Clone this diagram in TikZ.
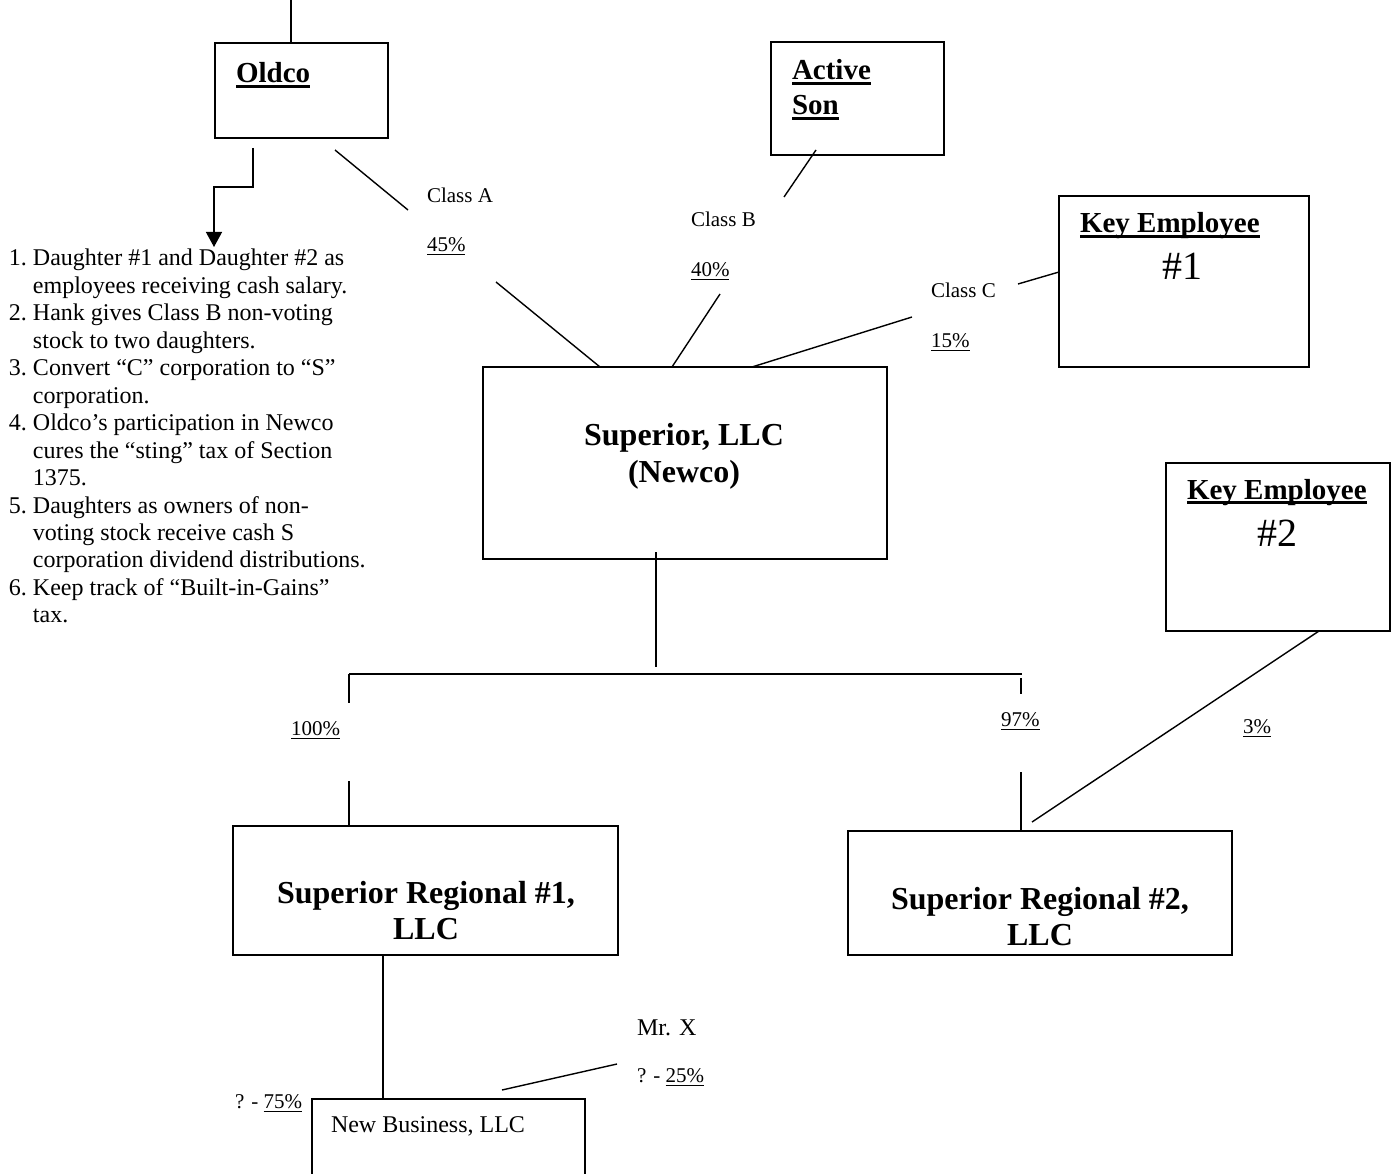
\documentclass[tikz,border=0pt]{standalone}
\usepackage{fontspec}
\setmainfont{Liberation Serif}
\usetikzlibrary{arrows.meta,calc}

% fonts
\newcommand{\listfont}{\fontsize{24}{27.45}\selectfont}
\newcommand{\labfont}{\fontsize{21}{24}\selectfont}
\newcommand{\midfont}{\fontsize{24}{28}\selectfont}
\newcommand{\titlefont}{\fontsize{29}{34}\selectfont\bfseries}
\newcommand{\numfont}{\fontsize{40}{46}\selectfont}
\newcommand{\firmfont}{\fontsize{32}{37}\selectfont\bfseries}
% underlines: text with a rule below the baseline
\newsavebox{\ulbox}
\newcommand{\bul}[1]{\sbox{\ulbox}{#1}\rlap{\usebox{\ulbox}}\rule[-4.6pt]{\wd\ulbox}{2.6pt}}
\newcommand{\pul}[1]{\sbox{\ulbox}{#1}\rlap{\usebox{\ulbox}}\rule[-3.5pt]{\wd\ulbox}{1pt}}

\begin{document}
\begin{tikzpicture}[x=1pt,y=-1pt,
  entity/.style={draw, line width=1.5pt, inner sep=0pt, outer sep=0pt, anchor=north west},
  txt/.style={anchor=base west, inner sep=0pt, outer sep=0pt},
  ctxt/.style={anchor=base, inner sep=0pt, outer sep=0pt, align=center},
  link/.style={line width=1.4pt}]
\useasboundingbox (0,0) rectangle (1398,1174);
\clip (0,0) rectangle (1398,1174);
\fill[white] (0,0) rectangle (1398,1174);

% boxes
\node[entity, minimum width=173pt, minimum height=95pt]  (oldco)  at (215,43) {};
\node[entity, minimum width=173pt, minimum height=113pt] (son)    at (771,42) {};
\node[entity, minimum width=250pt, minimum height=171pt] (keyone) at (1059,196) {};
\node[entity, minimum width=224pt, minimum height=168pt] (keytwo) at (1166,463) {};
\node[entity, minimum width=404pt, minimum height=192pt] (newco)  at (483,367) {};
\node[entity, minimum width=385pt, minimum height=129pt] (regone) at (233,826) {};
\node[entity, minimum width=384pt, minimum height=124pt] (regtwo) at (848,831) {};
\node[entity, minimum width=273pt, minimum height=140pt] (newbiz) at (312,1099) {};

% box texts
\node[txt] (toldco) at (236,83) {\titlefont\bul{Oldco}};
\node[txt] (tson1) at (792,80) {\titlefont\bul{Active}};
\node[txt] (tson2) at (792,115) {\titlefont\bul{Son}};
\node[txt] (tkey1) at (1080,233) {\titlefont\bul{Key Employee}};
\node[ctxt] (nkey1) at (1182,280) {\numfont\#1};
\node[txt] (tkey2) at (1187,499) {\titlefont\bul{Key Employee}};
\node[ctxt] (nkey2) at (1277,546) {\numfont\#2};
\node[ctxt] (tnew1) at (684,445) {\firmfont Superior, LLC};
\node[ctxt] (tnew2) at (684,482) {\firmfont (Newco)};
\node[ctxt] (treg1a) at (426,903) {\firmfont Superior Regional \#1,};
\node[ctxt] (treg1b) at (426,939) {\firmfont LLC};
\node[ctxt] (treg2a) at (1040,909) {\firmfont Superior Regional \#2,};
\node[ctxt] (treg2b) at (1040,945) {\firmfont LLC};
\node[txt] (tbiz) at (331,1132) {\midfont New Business, LLC};

% ownership labels
\node[txt] (lca) at (427,203) {\labfont Class A};
\node[txt] (pca) at (427,252) {\labfont\pul{45\%}};
\node[txt] (lcb) at (691,227) {\labfont Class B};
\node[txt] (pcb) at (691,277) {\labfont\pul{40\%}};
\node[txt] (lcc) at (931,298) {\labfont Class C};
\node[txt] (pcc) at (931,348) {\labfont\pul{15\%}};
\node[txt] (p100) at (291,735) {\labfont\pul{100\%}};
\node[txt] (p97) at (1001,726) {\labfont\pul{97\%}};
\node[txt] (p3) at (1243,733) {\labfont\pul{3\%}};
\node[txt] (lmx) at (637,1035) {\midfont Mr. X};
\node[txt] (pmx) at (637,1082) {\labfont ? - \pul{25\%}};
\node[txt] (p75) at (235,1108) {\labfont ? - \pul{75\%}};

% numbered notes
\node[txt] (notes) at (9,266) {\listfont
  \begin{tabular}[t]{@{}l@{\ }l@{}}
  1. & Daughter \#1 and Daughter \#2 as\\
     & employees receiving cash salary.\\
  2. & Hank gives Class B non-voting\\
     & stock to two daughters.\\
  3. & Convert ``C'' corporation to ``S''\\
     & corporation.\\
  4. & Oldco's participation in Newco\\
     & cures the ``sting'' tax of Section\\
     & 1375.\\
  5. & Daughters as owners of non-\\
     & voting stock receive cash S\\
     & corporation dividend distributions.\\
  6. & Keep track of ``Built-in-Gains''\\
     & tax.
  \end{tabular}};

% connector end points
\coordinate (topend) at (291,0);
\coordinate (arrA) at (253,148);
\coordinate (arrB) at (253,187);
\coordinate (arrC) at (214,187);
\coordinate (arrD) at (214,247);
\coordinate (ca1) at (335,150);
\coordinate (ca2) at (408,210);
\coordinate (ca3) at (496,282);
\coordinate (cb1) at (816,150);
\coordinate (cb2) at (784,197);
\coordinate (cb3) at (720,294);
\coordinate (cc1) at (1018,284);
\coordinate (cc2) at (912,317);
\coordinate (nc1) at (656,552);
\coordinate (nc2) at (656,667);
\coordinate (barL) at (349,674);
\coordinate (barR) at (1022,674);
\coordinate (lstub) at (349,703);
\coordinate (lgo) at (349,781);
\coordinate (rtop) at (1021,678);
\coordinate (rstub) at (1021,694);
\coordinate (rgo) at (1021,772);
\coordinate (k2end) at (1032,822);
\coordinate (mx1) at (617,1064);
\coordinate (mx2) at (502,1090);

% connectors
\draw[link] (topend) -- ($(oldco.north west)+(76,0)$);
\draw[link, -{Triangle[width=16pt,length=15pt]}] (arrA) -- (arrB) -- (arrC) -- (arrD);
\draw[link] (ca1) -- (ca2);
\draw[link] (ca3) -- ($(newco.north west)+(117,0)$);
\draw[link] (cb1) -- (cb2);
\draw[link] (cb3) -- ($(newco.north west)+(189,0)$);
\draw[link] (cc1) -- ($(keyone.north west)+(0,76)$);
\draw[link] (cc2) -- ($(newco.north west)+(269,0)$);
\draw[link] (nc1) -- (nc2);
\draw[link] (barL) -- (barR);
\draw[link] (barL) -- (lstub);
\draw[link] (lgo) -- ($(regone.north west)+(116,0)$);
\draw[link] (rtop) -- (rstub);
\draw[link] (rgo) -- ($(regtwo.north west)+(173,0)$);
\draw[link] ($(keytwo.south west)+(153,0)$) -- (k2end);
\draw[link] ($(regone.south west)+(150,0)$) -- ($(newbiz.north west)+(71,0)$);
\draw[link] (mx1) -- (mx2);
\end{tikzpicture}
\end{document}
